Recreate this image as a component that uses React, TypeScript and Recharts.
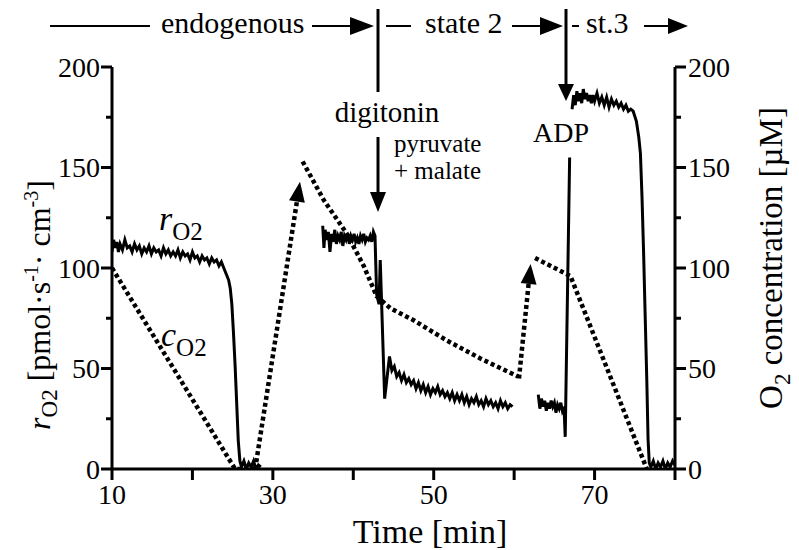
import React from 'react';
import { LineChart, Line, XAxis, YAxis } from 'recharts';

const FONT = '"Liberation Serif", serif';
const fs = (size: number) => ({ fontFamily: FONT, fontSize: size });

// ---------- r_O2 (solid, pmol/s/cm3) ----------
const rEndoTime = [10.0, 10.2, 10.4, 10.6, 10.8, 11.0, 11.3, 11.6, 11.9, 12.2, 12.5, 12.8, 13.1, 13.4, 13.7, 14.0, 14.3, 14.6, 14.9, 15.2, 15.5, 15.8, 16.1, 16.4, 16.7, 17.0, 17.3, 17.6, 17.9, 18.2, 18.5, 18.8, 19.1, 19.4, 19.7, 20.0, 20.3, 20.6, 20.9, 21.2, 21.5, 21.8, 22.1, 22.4, 22.7, 23.0, 23.3, 23.6, 23.9, 24.2, 24.5, 24.7, 24.9, 25.1, 25.3, 25.5, 25.7, 25.9, 26.1, 26.4, 26.7, 27.0, 27.3, 27.6, 27.9, 28.2, 28.5];
const rEndoValue = [108, 114, 110, 113, 108, 112, 109, 114, 110, 111, 108, 112, 109, 111, 107, 110, 108, 111, 107, 110, 108, 109, 106, 110, 107, 109, 106, 108, 106, 109, 105, 108, 106, 107, 104, 108, 105, 106, 103, 106, 104, 105, 102, 105, 103, 104, 101, 103, 100, 97, 94, 90, 82, 68, 52, 33, 14, 4, 1, 4, 0, 3, 1, 4, 0, 2, 1];

const rState2Time = [36.2, 36.35, 36.5, 36.7, 36.9, 37.1, 37.3, 37.5, 37.7, 37.9, 38.1, 38.3, 38.5, 38.7, 38.9, 39.1, 39.3, 39.5, 39.7, 39.9, 40.1, 40.3, 40.5, 40.7, 40.9, 41.1, 41.3, 41.5, 41.7, 41.9, 42.1, 42.3, 42.5, 42.7, 42.9, 43.2, 43.35, 43.9, 44.5, 44.8, 45.1, 45.4, 45.7, 46.0, 46.3, 46.6, 46.9, 47.2, 47.5, 47.8, 48.1, 48.4, 48.7, 49.0, 49.3, 49.6, 49.9, 50.2, 50.5, 50.8, 51.1, 51.4, 51.7, 52.0, 52.3, 52.6, 52.9, 53.2, 53.5, 53.8, 54.1, 54.4, 54.7, 55.0, 55.3, 55.6, 55.9, 56.2, 56.5, 56.8, 57.1, 57.4, 57.7, 58.0, 58.3, 58.6, 58.9, 59.2, 59.5, 59.8];
const rState2Value = [121, 110, 119, 114, 118, 108, 117, 113, 119, 112, 116, 114, 118, 111, 116, 114, 117, 112, 116, 114, 117, 113, 115, 112, 116, 114, 117, 113, 115, 114, 116, 113, 118, 116, 87, 82, 104, 35, 56, 49, 51, 46, 48, 44, 47, 43, 45, 42, 44, 40, 43, 39, 42, 38, 41, 37, 40, 38, 41, 37, 39, 36, 38, 35, 38, 34, 37, 34, 37, 33, 36, 32, 35, 33, 36, 32, 34, 31, 35, 32, 34, 31, 33, 30, 34, 31, 33, 30, 32, 31];

const rAdpTime = [63.0, 63.2, 63.4, 63.6, 63.8, 64.0, 64.2, 64.4, 64.6, 64.8, 65.0, 65.2, 65.4, 65.6, 65.8, 66.0, 66.2, 66.35, 66.9];
const rAdpValue = [37, 30, 35, 31, 34, 29, 33, 30, 34, 31, 33, 28, 32, 30, 33, 29, 31, 16, 155];

const rState3Time = [67.2, 67.4, 67.6, 67.8, 68.0, 68.2, 68.4, 68.6, 68.8, 69.0, 69.2, 69.4, 69.6, 69.8, 70.0, 70.3, 70.6, 70.9, 71.2, 71.5, 71.8, 72.1, 72.4, 72.7, 73.0, 73.3, 73.6, 73.9, 74.2, 74.5, 74.8, 75.2, 75.5, 75.7, 75.9, 76.1, 76.3, 76.5, 76.65, 76.8, 77.0, 77.3, 77.6, 77.9, 78.2, 78.5, 78.8, 79.1, 79.4, 79.7, 80.0];
const rState3Value = [179, 186, 181, 188, 183, 187, 182, 189, 184, 187, 183, 186, 182, 186, 183, 187, 182, 185, 181, 185, 180, 184, 181, 183, 180, 182, 179, 181, 178, 179, 178, 173, 165, 157, 135, 107, 75, 43, 15, 3, 1, 4, 0, 3, 1, 4, 0, 3, 1, 4, 2];

// ---------- c_O2 (dotted, µM) ----------
const cEndoTime = [10, 25.3, 27.8];
const cEndoValue = [100, 0, 0];
const cReox1Time = [27.8, 33.3];
const cReox1Value = [0, 141];
const cState2Time = [33.7, 36.3, 39.2, 41.3, 42.9, 44.6, 47.5, 51.6, 55.8, 60.5];
const cState2Value = [153, 134, 117, 101, 86, 80, 74, 64, 55, 46];
const cReox2Time = [60.6, 62.0];
const cReox2Value = [45, 100];
const cState3Time = [62.6, 67.0, 76.5];
const cState3Value = [105, 96, 0];

// ---------- axes ----------
const xTicks = [10, 20, 30, 40, 50, 60, 70, 80];
const xLabels = [10, 30, 50, 70];
const xTopTicks = [30, 50, 70];
const yTicks = [0, 25, 50, 75, 100, 125, 150, 175, 200];
const yLabels = [0, 50, 100, 150, 200];

const pts = (t: number[], v: number[]) => t.map((x, i) => ({ t: x, v: v[i] }));

const rEndo = pts(rEndoTime, rEndoValue);
const rState2 = pts(rState2Time, rState2Value);
const rAdp = pts(rAdpTime, rAdpValue);
const rState3 = pts(rState3Time, rState3Value);
const cEndo = pts(cEndoTime, cEndoValue);
const cReox1 = pts(cReox1Time, cReox1Value);
const cState2 = pts(cState2Time, cState2Value);
const cReox2 = pts(cReox2Time, cReox2Value);
const cState3 = pts(cState3Time, cState3Value);

const makeArrowDot = (n: number) => (props: any) => {
  const { cx, cy, index, points } = props;
  const key = `ad-${index}`;
  if (index !== n - 1 || cx == null || cy == null) return <g key={key} />;
  let a = -Math.PI / 2;
  if (points && points[index - 1]) {
    const p = points[index - 1];
    a = Math.atan2(cy - p.y, cx - p.x);
  }
  const L = 20;
  const W = 8;
  const ux = Math.cos(a);
  const uy = Math.sin(a);
  const tx = cx + ux * 4;
  const ty = cy + uy * 4;
  const bx = tx - ux * L;
  const by = ty - uy * L;
  const poly = `${tx},${ty} ${bx - uy * W},${by + ux * W} ${bx + uy * W},${by - ux * W}`;
  return <polygon key={key} points={poly} fill="#000" stroke="none" />;
};

const XTick = (props: any) => {
  const { x, y, payload } = props;
  const v = payload.value;
  return (
    <g>
      <line x1={x} y1={y} x2={x} y2={y + 11} stroke="#000" strokeWidth={3} />
      {xLabels.includes(v) && (
        <text x={x} y={y + 35} textAnchor="middle" fill="#000" style={fs(28)}>
          {v}
        </text>
      )}
    </g>
  );
};

const XTopTick = (props: any) => {
  const { x, y } = props;
  return <line x1={x} y1={y} x2={x} y2={y - 10} stroke="#000" strokeWidth={3} />;
};

const YLeftTick = (props: any) => {
  const { x, y, payload } = props;
  const v = payload.value;
  const major = yLabels.includes(v);
  const len = major ? 11 : 6;
  return (
    <g>
      <line x1={x - len} y1={y} x2={x} y2={y} stroke="#000" strokeWidth={3} />
      {major && (
        <text x={x - 12} y={y} dy="0.35em" textAnchor="end" fill="#000" style={fs(28)}>
          {v}
        </text>
      )}
    </g>
  );
};

const YRightTick = (props: any) => {
  const { x, y, payload } = props;
  const v = payload.value;
  const major = yLabels.includes(v);
  const len = major ? 11 : 6;
  return (
    <g>
      <line x1={x} y1={y} x2={x + len} y2={y} stroke="#000" strokeWidth={3} />
      {major && (
        <text x={x + 13} y={y} dy="0.35em" textAnchor="start" fill="#000" style={fs(28)}>
          {v}
        </text>
      )}
    </g>
  );
};

const axisLine = { stroke: '#000', strokeWidth: 3 };

const solid = { stroke: '#000', strokeWidth: 3, dot: false as const, isAnimationActive: false, type: 'linear' as const };
const dotted = { stroke: '#000', strokeWidth: 4.5, strokeDasharray: '4 3', isAnimationActive: false, type: 'linear' as const };

const Overlay = () => (
  <svg width={799} height={550} style={{ position: 'absolute', left: 0, top: 0, pointerEvents: 'none', fontFamily: FONT }}>
    <g fill="#000">
      {/* phase bar */}
      <line x1={50} y1={26} x2={150} y2={26} stroke="#000" strokeWidth={2} />
      <text x={161} y={33} style={fs(30)}>endogenous</text>
      <line x1={312} y1={26} x2={352} y2={26} stroke="#000" strokeWidth={2} />
      <polygon points="350,17 374,26 350,35" />
      <line x1={378} y1={9} x2={378} y2={92} stroke="#000" strokeWidth={3} />
      <line x1={386} y1={26} x2={411} y2={26} stroke="#000" strokeWidth={2} />
      <text x={425} y={33} style={fs(30)}>state 2</text>
      <line x1={512} y1={26} x2={542} y2={26} stroke="#000" strokeWidth={2} />
      <polygon points="540,17 563,26 540,35" />
      <line x1={566} y1={9} x2={566} y2={88} stroke="#000" strokeWidth={3} />
      <polygon points="558,84 574,84 566,101" />
      <line x1={572} y1={26} x2={579} y2={26} stroke="#000" strokeWidth={2} />
      <text x={586} y={33} style={fs(30)}>st.3</text>
      <line x1={644} y1={26} x2={670} y2={26} stroke="#000" strokeWidth={2} />
      <polygon points="668,18 688,26 668,34" />

      {/* digitonin */}
      <text x={387} y={122} textAnchor="middle" style={fs(29)}>digitonin</text>
      <line x1={378} y1={137} x2={378} y2={196} stroke="#000" strokeWidth={3} />
      <polygon points="370,192 386,192 378,212" />
      <text x={394} y={152} style={fs(25)}>pyruvate</text>
      <text x={394} y={179} style={fs(25)}>+ malate</text>

      {/* ADP */}
      <text x={561} y={142} textAnchor="middle" style={fs(28)}>ADP</text>

      {/* curve labels */}
      <text x={159} y={230} style={fs(34)}>
        <tspan fontStyle="italic">r</tspan>
        <tspan fontSize={25} dy={10}>O2</tspan>
      </text>
      <text x={161} y={346} style={fs(34)}>
        <tspan fontStyle="italic">c</tspan>
        <tspan fontSize={25} dy={10}>O2</tspan>
      </text>

      {/* axis titles */}
      <text x={430} y={543} textAnchor="middle" style={fs(34)}>Time  [min]</text>
      <text transform="translate(50,305) rotate(-90)" textAnchor="middle" style={fs(32)}>
        <tspan fontStyle="italic">r</tspan>
        <tspan fontSize={23} dy={7}>O2</tspan>
        <tspan dy={-7}>{'  [pmol·s'}</tspan>
        <tspan fontSize={20} dy={-12}>-1</tspan>
        <tspan dy={12}>{'· cm'}</tspan>
        <tspan fontSize={20} dy={-12}>-3</tspan>
        <tspan dy={12}>]</tspan>
      </text>
      <text transform="translate(782,258) rotate(-90)" textAnchor="middle" style={fs(33)}>
        <tspan>O</tspan>
        <tspan fontSize={23} dy={8}>2</tspan>
        <tspan dy={-8}>{' concentration  [µM]'}</tspan>
      </text>
    </g>
  </svg>
);

export default function App() {
  return (
    <div style={{ position: 'absolute', left: 0, top: 0, width: 799, height: 550, background: '#fff', fontFamily: FONT }}>
      <LineChart width={799} height={550} margin={{ top: 67, right: 0, bottom: 0, left: 0 }}>
        <XAxis
          xAxisId="b"
          dataKey="t"
          type="number"
          domain={[10, 80]}
          allowDataOverflow
          ticks={xTicks}
          tickSize={0}
          tickMargin={0}
          tickLine={false}
          tick={XTick}
          axisLine={axisLine}
          height={81}
        />
        <XAxis
          xAxisId="top"
          orientation="top"
          dataKey="t"
          type="number"
          domain={[10, 80]}
          allowDataOverflow
          ticks={xTopTicks}
          tickSize={0}
          tickMargin={0}
          tickLine={false}
          tick={XTopTick}
          axisLine={axisLine}
          height={0}
        />
        <YAxis
          yAxisId="L"
          type="number"
          domain={[0, 200]}
          allowDataOverflow
          ticks={yTicks}
          tickSize={0}
          tickMargin={0}
          tickLine={false}
          tick={YLeftTick}
          axisLine={axisLine}
          width={112}
        />
        <YAxis
          yAxisId="R"
          orientation="right"
          type="number"
          domain={[0, 200]}
          allowDataOverflow
          ticks={yTicks}
          tickSize={0}
          tickMargin={0}
          tickLine={false}
          tick={YRightTick}
          axisLine={axisLine}
          width={124}
        />
        <Line xAxisId="b" yAxisId="R" data={cEndo} dataKey="v" {...dotted} dot={false} />
        <Line xAxisId="b" yAxisId="R" data={cReox1} dataKey="v" {...dotted} dot={makeArrowDot(cReox1.length)} />
        <Line xAxisId="b" yAxisId="R" data={cState2} dataKey="v" {...dotted} dot={false} />
        <Line xAxisId="b" yAxisId="R" data={cReox2} dataKey="v" {...dotted} dot={makeArrowDot(cReox2.length)} />
        <Line xAxisId="b" yAxisId="R" data={cState3} dataKey="v" {...dotted} dot={false} />
        <Line xAxisId="b" yAxisId="L" data={rEndo} dataKey="v" {...solid} />
        <Line xAxisId="b" yAxisId="L" data={rState2} dataKey="v" {...solid} />
        <Line xAxisId="b" yAxisId="L" data={rAdp} dataKey="v" {...solid} />
        <Line xAxisId="b" yAxisId="L" data={rState3} dataKey="v" {...solid} />
      </LineChart>
      <Overlay />
    </div>
  );
}
